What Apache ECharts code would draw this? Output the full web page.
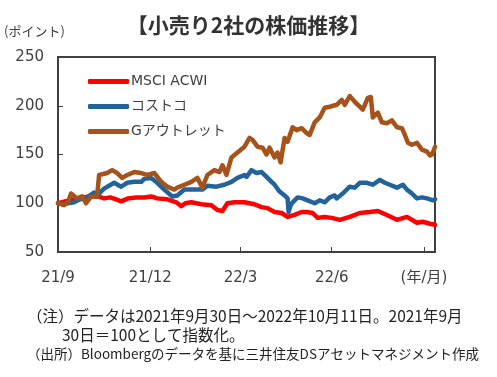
<!DOCTYPE html>
<html>
<head>
<meta charset="utf-8">
<script src="https://cdn.jsdelivr.net/npm/echarts@6/dist/echarts.min.js"></script>
<style>
  html, body { margin: 0; padding: 0; background: #fff; }
  #chart { width: 497px; height: 377px; }
</style>
</head>
<body>
<div id="chart"></div>
<script>
// days counted from 2021/9/30 (=100)
let tickDays = [0, 92, 182, 273, 365];
let tickLabels = ["21/9", "21/12", "22/3", "22/6", "(年/月)"];

let msciDays = [0, 8, 16, 24, 32, 40, 46, 52, 58, 63, 70, 78, 86, 93, 99, 109, 118, 123, 127, 133,
  143, 153, 159, 164, 169, 176, 186, 196, 203, 209, 216, 223, 229, 236, 243, 248, 254, 259, 266, 273,
  281, 291, 301, 311, 319, 328, 338, 348, 358, 364, 371, 376];
let msciValues = [100, 102, 104, 106, 107, 107, 105, 106, 104, 102, 105, 106, 106, 107, 105, 104, 101, 97, 100, 101,
  99, 98, 93, 92, 100, 101, 101, 99, 96, 95, 91, 90, 86, 88, 91, 91, 90, 85, 86, 85,
  83, 86, 90, 91, 92, 88, 83, 86, 80, 81, 79, 78];

let costcoDays = [0, 10, 16, 22, 29, 36, 39, 46, 56, 63, 69, 76, 83, 86, 93, 99, 106, 114, 119, 126,
  136, 144, 149, 158, 166, 173, 179, 186, 188, 193, 198, 203, 208, 213, 216, 221, 226, 229, 230, 232,
  234, 239, 244, 249, 256, 261, 266, 271, 276, 278, 284, 291, 296, 301, 308, 314, 321, 326, 331, 338,
  344, 348, 353, 358, 363, 368, 374, 376];
let costcoValues = [100, 100, 101, 104, 106, 111, 108, 115, 121, 117, 121, 122, 122, 125, 126, 121, 114, 107, 108, 114,
  114, 114, 118, 117, 119, 122, 126, 129, 127, 134, 131, 132, 127, 122, 119, 112, 108, 105, 91, 98,
  101, 106, 105, 103, 100, 103, 101, 106, 108, 105, 110, 117, 116, 121, 121, 119, 124, 121, 119, 116,
  119, 114, 110, 105, 106, 105, 103, 104];

let outletDays = [0, 6, 10, 13, 19, 24, 28, 33, 39, 41, 49, 54, 59, 64, 69, 76, 83, 89, 96, 103,
  109, 116, 119, 126, 133, 139, 144, 149, 156, 161, 164, 168, 173, 179, 186, 191, 194, 199, 204, 208,
  211, 216, 219, 222, 226, 229, 234, 238, 243, 248, 251, 256, 261, 266, 271, 278, 283, 286, 291, 296,
  301, 304, 309, 312, 314, 319, 323, 328, 333, 338, 343, 346, 349, 353, 358, 363, 368, 371, 373, 375, 376];
let outletValues = [100, 98, 101, 110, 105, 107, 100, 107, 107, 129, 131, 134, 131, 126, 129, 132, 131, 129, 131, 122,
  117, 114, 116, 119, 122, 126, 116, 129, 134, 132, 139, 129, 147, 152, 158, 167, 165, 158, 157, 150,
  157, 147, 152, 142, 167, 163, 178, 175, 177, 172, 170, 183, 188, 198, 199, 201, 206, 201, 210, 204,
  199, 196, 208, 209, 188, 193, 183, 182, 185, 178, 177, 170, 162, 160, 162, 155, 153, 149, 150, 155, 158];

let seriesNames = ["MSCI ACWI", "コストコ", "Gアウトレット"];
let seriesColors = ["#ff0000", "#23639c", "#a5531a"];

function pairs(days, values) {
  let out = [];
  for (let i = 0; i < days.length; i++) {
    out.push([days[i], values[i]]);
  }
  return out;
}

let seriesData = [
  pairs(msciDays, msciValues),
  pairs(costcoDays, costcoValues),
  pairs(outletDays, outletValues)
];

let fontAll = "'DejaVu Sans', 'Noto Sans CJK JP', sans-serif";
let fontJp = "'Noto Sans CJK JP', sans-serif";
let textColor = "#404040";

let chart = echarts.init(document.getElementById('chart'), null, {
  renderer: 'canvas'
});

let series = [];
for (let i = 0; i < seriesNames.length; i++) {
  series.push({
    name: seriesNames[i],
    type: 'line',
    data: seriesData[i],
    showSymbol: false,
    symbol: 'none',
    animation: false,
    lineStyle: {
      color: seriesColors[i],
      width: 4.5,
      cap: 'round',
      join: 'round'
    },
    itemStyle: {
      color: seriesColors[i]
    }
  });
}

let option = {
  backgroundColor: '#fff',
  animation: false,
  textStyle: {
    fontFamily: fontAll
  },
  title: {
    text: '【小売り2社の株価推移】',
    left: 'center',
    top: 10,
    textStyle: {
      fontSize: 21,
      fontWeight: 'bold',
      color: '#333',
      fontFamily: fontJp
    }
  },
  legend: {
    orient: 'vertical',
    left: 88,
    top: 74,
    padding: 0,
    icon: 'roundRect',
    itemWidth: 41,
    itemHeight: 5,
    itemGap: 10,
    data: seriesNames,
    textStyle: {
      fontSize: 14,
      lineHeight: 15,
      color: textColor,
      fontFamily: fontAll,
      padding: [0, 0, 0, -3]
    }
  },
  grid: {
    left: 58,
    right: 62,
    top: 57,
    bottom: 125,
    show: true,
    borderColor: '#404040',
    borderWidth: 2
  },
  xAxis: {
    type: 'value',
    min: 0,
    max: 376,
    axisLine: {
      lineStyle: { color: '#404040', width: 2 }
    },
    axisTick: {
      inside: true,
      length: 5,
      customValues: tickDays.slice(1),
      lineStyle: { color: '#404040', width: 1 }
    },
    axisLabel: {
      customValues: tickDays,
      margin: 19,
      fontSize: 15,
      color: textColor,
      fontFamily: fontAll,
      formatter: function(v) {
        let idx = tickDays.indexOf(v);
        return idx >= 0 ? tickLabels[idx] : '';
      }
    },
    splitLine: { show: false }
  },
  yAxis: {
    type: 'value',
    min: 50,
    max: 250,
    interval: 50,
    axisLine: {
      show: true,
      lineStyle: { color: '#404040', width: 2 }
    },
    axisTick: {
      show: true,
      inside: true,
      length: 5,
      lineStyle: { color: '#404040', width: 1 }
    },
    axisLabel: {
      margin: 14,
      fontSize: 15,
      color: textColor,
      fontFamily: fontAll
    },
    splitLine: { show: false }
  },
  graphic: [{
      type: 'text',
      left: 4,
      top: 25,
      style: {
        text: '(ポイント)',
        fontSize: 13,
        fill: textColor,
        fontFamily: fontJp
      }
    },
    {
      type: 'text',
      left: 27,
      top: 308,
      style: {
        text: '（注）データは2021年9月30日～2022年10月11日。2021年9月',
        fontSize: 15.5,
        fill: '#222',
        fontFamily: fontJp
      }
    },
    {
      type: 'text',
      left: 62,
      top: 327,
      style: {
        text: '30日＝100として指数化。',
        fontSize: 15.5,
        fill: '#222',
        fontFamily: fontJp
      }
    },
    {
      type: 'text',
      left: 27,
      top: 347,
      style: {
        text: '（出所）Bloombergのデータを基に三井住友DSアセットマネジメント作成',
        fontSize: 13.5,
        fill: '#222',
        fontFamily: fontJp
      }
    }
  ],
  series: series
};

chart.setOption(option);
</script>
</body>
</html>
